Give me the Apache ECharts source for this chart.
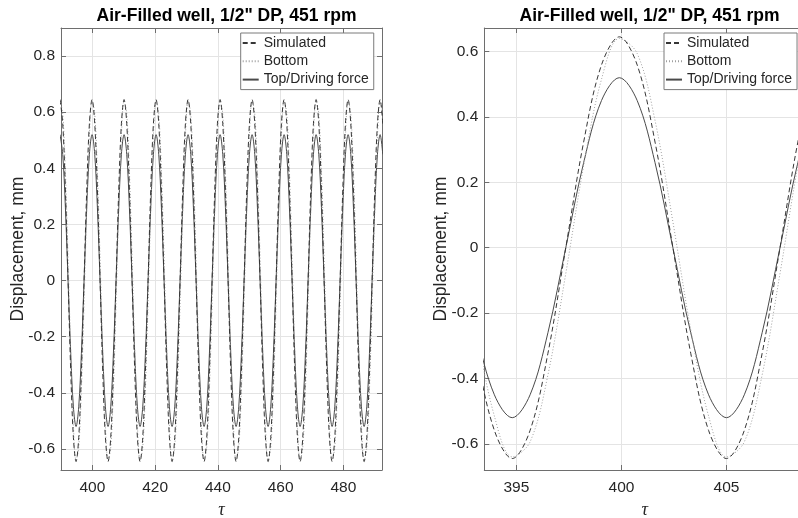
<!DOCTYPE html>
<html><head><meta charset="utf-8">
<script src="https://cdn.jsdelivr.net/npm/echarts@6/dist/echarts.min.js"></script>
<style>html,body{margin:0;padding:0;background:#fff}#c{width:798px;height:518px}</style>
</head><body><div id="c"></div>
<script>
const titleText = 'Air-Filled well, 1/2" DP, 451 rpm';
const seriesNames = ['Simulated', 'Bottom', 'Top/Driving force'];
const yAxisName = 'Displacement, mm';
const xAxisName = 'τ';

// τ sample positions (~12 per oscillation)
const tau = [
  389.7, 390.55, 391.4, 392.25, 393.1, 393.95, 394.8, 395.65, 396.5, 397.35, 398.2, 399.05,
  399.9, 400.75, 401.6, 402.45, 403.3, 404.15, 405.0, 405.85, 406.7, 407.55, 408.4, 409.25,
  410.1, 410.95, 411.8, 412.65, 413.5, 414.35, 415.2, 416.05, 416.9, 417.75, 418.6, 419.45,
  420.3, 421.15, 422.0, 422.85, 423.7, 424.55, 425.4, 426.25, 427.1, 427.95, 428.8, 429.65,
  430.5, 431.35, 432.2, 433.05, 433.9, 434.75, 435.6, 436.45, 437.3, 438.15, 439.0, 439.85,
  440.7, 441.55, 442.4, 443.25, 444.1, 444.95, 445.8, 446.65, 447.5, 448.35, 449.2, 450.05,
  450.9, 451.75, 452.6, 453.45, 454.3, 455.15, 456.0, 456.85, 457.7, 458.55, 459.4, 460.25,
  461.1, 461.95, 462.8, 463.65, 464.5, 465.35, 466.2, 467.05, 467.9, 468.75, 469.6, 470.45,
  471.3, 472.15, 473.0, 473.85, 474.7, 475.55, 476.4, 477.25, 478.1, 478.95, 479.8, 480.65,
  481.5, 482.35, 483.2, 484.05, 484.9, 485.75, 486.6, 487.45, 488.3, 489.15, 490.0, 490.85,
  491.7, 492.55
];

// Simulated displacement, mm (dashed)
const simulated = [
  0.645, 0.559, 0.323, 0, -0.323, -0.559, -0.645, -0.559, -0.323, 0, 0.323, 0.559,
  0.645, 0.559, 0.323, 0, -0.323, -0.559, -0.645, -0.559, -0.323, 0, 0.323, 0.559,
  0.645, 0.559, 0.323, 0, -0.323, -0.559, -0.645, -0.559, -0.323, 0, 0.323, 0.559,
  0.645, 0.559, 0.323, 0, -0.323, -0.559, -0.645, -0.559, -0.323, 0, 0.323, 0.559,
  0.645, 0.559, 0.323, 0, -0.323, -0.559, -0.645, -0.559, -0.323, 0, 0.323, 0.559,
  0.645, 0.559, 0.323, 0, -0.323, -0.559, -0.645, -0.559, -0.323, 0, 0.323, 0.559,
  0.645, 0.559, 0.323, 0, -0.323, -0.559, -0.645, -0.559, -0.323, 0, 0.323, 0.559,
  0.645, 0.559, 0.323, 0, -0.323, -0.559, -0.645, -0.559, -0.323, 0, 0.323, 0.559,
  0.645, 0.559, 0.323, 0, -0.323, -0.559, -0.645, -0.559, -0.323, 0, 0.323, 0.559,
  0.645, 0.559, 0.323, 0, -0.323, -0.559, -0.645, -0.559, -0.323, 0, 0.323, 0.559,
  0.645, 0.559
];

// Bottom displacement, mm (dotted, lags slightly)
const bottom = [
  0.640, 0.594, 0.389, 0.079, -0.251, -0.515, -0.640, -0.594, -0.389, -0.079, 0.251, 0.515,
  0.640, 0.594, 0.389, 0.079, -0.251, -0.515, -0.640, -0.594, -0.389, -0.079, 0.251, 0.515,
  0.640, 0.594, 0.389, 0.079, -0.251, -0.515, -0.640, -0.594, -0.389, -0.079, 0.251, 0.515,
  0.640, 0.594, 0.389, 0.079, -0.251, -0.515, -0.640, -0.594, -0.389, -0.079, 0.251, 0.515,
  0.640, 0.594, 0.389, 0.079, -0.251, -0.515, -0.640, -0.594, -0.389, -0.079, 0.251, 0.515,
  0.640, 0.594, 0.389, 0.079, -0.251, -0.515, -0.640, -0.594, -0.389, -0.079, 0.251, 0.515,
  0.640, 0.594, 0.389, 0.079, -0.251, -0.515, -0.640, -0.594, -0.389, -0.079, 0.251, 0.515,
  0.640, 0.594, 0.389, 0.079, -0.251, -0.515, -0.640, -0.594, -0.389, -0.079, 0.251, 0.515,
  0.640, 0.594, 0.389, 0.079, -0.251, -0.515, -0.640, -0.594, -0.389, -0.079, 0.251, 0.515,
  0.640, 0.594, 0.389, 0.079, -0.251, -0.515, -0.640, -0.594, -0.389, -0.079, 0.251, 0.515,
  0.640, 0.594
];

// Top / driving force displacement, mm (solid)
const topForce = [
  0.52, 0.45, 0.26, 0, -0.26, -0.45, -0.52, -0.45, -0.26, 0, 0.26, 0.45,
  0.52, 0.45, 0.26, 0, -0.26, -0.45, -0.52, -0.45, -0.26, 0, 0.26, 0.45,
  0.52, 0.45, 0.26, 0, -0.26, -0.45, -0.52, -0.45, -0.26, 0, 0.26, 0.45,
  0.52, 0.45, 0.26, 0, -0.26, -0.45, -0.52, -0.45, -0.26, 0, 0.26, 0.45,
  0.52, 0.45, 0.26, 0, -0.26, -0.45, -0.52, -0.45, -0.26, 0, 0.26, 0.45,
  0.52, 0.45, 0.26, 0, -0.26, -0.45, -0.52, -0.45, -0.26, 0, 0.26, 0.45,
  0.52, 0.45, 0.26, 0, -0.26, -0.45, -0.52, -0.45, -0.26, 0, 0.26, 0.45,
  0.52, 0.45, 0.26, 0, -0.26, -0.45, -0.52, -0.45, -0.26, 0, 0.26, 0.45,
  0.52, 0.45, 0.26, 0, -0.26, -0.45, -0.52, -0.45, -0.26, 0, 0.26, 0.45,
  0.52, 0.45, 0.26, 0, -0.26, -0.45, -0.52, -0.45, -0.26, 0, 0.26, 0.45,
  0.52, 0.45
];

// Tick labels
const leftXTicks = [400, 420, 440, 460, 480];
const leftYTicks = [-0.6, -0.4, -0.2, 0, 0.2, 0.4, 0.6, 0.8];
const rightXTicks = [395, 400, 405];
const rightYTicks = [-0.6, -0.4, -0.2, 0, 0.2, 0.4, 0.6];

const FONT = 'Liberation Sans, Arial, Helvetica, sans-serif';
const AXIS_COLOR = '#6e6e6e';
const TEXT_COLOR = '#262626';
const GRID_COLOR = '#e4e4e4';

function fmt(ticks) {
  return function (v) {
    for (const t of ticks) if (Math.abs(t - v) < 1e-6) return String(t);
    return '';
  };
}

function mainX(gi, min, max, step, split, ticks) {
  return {
    gridIndex: gi, type: 'value', position: 'bottom', min: min, max: max,
    splitNumber: split, minInterval: step, maxInterval: step,
    axisLine: { show: true, onZero: false, lineStyle: { color: AXIS_COLOR, width: 1 } },
    axisTick: { show: true, inside: true, length: 5, lineStyle: { color: AXIS_COLOR } },
    axisLabel: { formatter: fmt(ticks), margin: 10, fontSize: 15.5, color: TEXT_COLOR, fontFamily: FONT },
    splitLine: { show: true, lineStyle: { color: GRID_COLOR, width: 1 } },
    name: xAxisName, nameLocation: 'middle', nameGap: 29,
    nameTextStyle: { fontSize: 18, fontStyle: 'italic', color: TEXT_COLOR, fontFamily: 'Liberation Serif, DejaVu Serif, serif' }
  };
}
function topX(gi, min, max, step, split) {
  return {
    gridIndex: gi, type: 'value', position: 'top', min: min, max: max,
    splitNumber: split, minInterval: step, maxInterval: step,
    axisLine: { show: true, onZero: false, lineStyle: { color: AXIS_COLOR, width: 1 } },
    axisTick: { show: true, inside: true, length: 5, lineStyle: { color: AXIS_COLOR } },
    axisLabel: { show: false }, splitLine: { show: false }
  };
}
function mainY(gi, min, max, split, ticks, gap) {
  return {
    gridIndex: gi, type: 'value', position: 'left', min: min, max: max,
    splitNumber: split, minInterval: 0.2, maxInterval: 0.2,
    axisLine: { show: true, onZero: false, lineStyle: { color: AXIS_COLOR, width: 1 } },
    axisTick: { show: true, inside: true, length: 5, lineStyle: { color: AXIS_COLOR } },
    axisLabel: { formatter: fmt(ticks), margin: 6, fontSize: 15.5, color: TEXT_COLOR, fontFamily: FONT },
    splitLine: { show: true, lineStyle: { color: GRID_COLOR, width: 1 } },
    name: yAxisName, nameLocation: 'middle', nameGap: gap, nameMoveOverlap: false,
    nameTextStyle: { fontSize: 17.5, color: TEXT_COLOR, fontFamily: FONT }
  };
}
function rightY(gi, min, max, split) {
  return {
    gridIndex: gi, type: 'value', position: 'right', min: min, max: max,
    splitNumber: split, minInterval: 0.2, maxInterval: 0.2,
    axisLine: { show: true, onZero: false, lineStyle: { color: AXIS_COLOR, width: 1 } },
    axisTick: { show: true, inside: true, length: 5, lineStyle: { color: AXIS_COLOR } },
    axisLabel: { show: false }, splitLine: { show: false }
  };
}

const styles = [
  { color: '#363636', width: 1, type: [5, 3] },
  { color: '#a0a0a0', width: 1, type: [1, 2] },
  { color: '#4a4a4a', width: 1, type: 'solid' }
];
const values = [simulated, bottom, topForce];

const series = [];
[0, 1].forEach(function (gi) {
  values.forEach(function (vals, si) {
    series.push({
      type: 'line', name: seriesNames[si],
      xAxisIndex: gi * 2, yAxisIndex: gi * 2,
      data: tau.map(function (x, i) { return [x, vals[i]]; }),
      symbol: 'none', showSymbol: false, smooth: 0.35, clip: true,
      itemStyle: { color: styles[si].color, opacity: 0 },
      lineStyle: styles[si], z: 3 - si, animation: false
    });
  });
});

function legend(left) {
  return {
    data: seriesNames, orient: 'vertical', left: left, top: 33,
    itemWidth: 16, itemHeight: 14, itemGap: 4.3,
    padding: [3, 5, 3, 1],
    itemStyle: { opacity: 0 },
    backgroundColor: '#ffffff', borderColor: '#7a7a7a', borderWidth: 1,
    textStyle: { fontSize: 14, color: TEXT_COLOR, fontFamily: FONT, lineHeight: 14 },
    selectedMode: false
  };
}

const option = {
  animation: false,
  backgroundColor: '#ffffff',
  textStyle: { fontFamily: FONT },
  title: [
    { text: titleText, left: 221.5, top: 2, textAlign: 'center',
      textStyle: { fontSize: 17.5, fontWeight: 'bold', color: '#000', fontFamily: FONT } },
    { text: titleText, left: 644.5, top: 2, textAlign: 'center',
      textStyle: { fontSize: 17.5, fontWeight: 'bold', color: '#000', fontFamily: FONT } }
  ],
  legend: [legend(240.7), legend(664)],
  grid: [
    { left: 61, top: 28, width: 321, height: 442, containLabel: false, outerBoundsMode: 'none' },
    { left: 484.3, top: 28, width: 320.7, height: 442, containLabel: false, outerBoundsMode: 'none' }
  ],
  xAxis: [
    mainX(0, 390, 492.3, 20, 5, leftXTicks), topX(0, 390, 492.3, 20, 5),
    mainX(1, 393.47, 408.74, 5, 3, rightXTicks), topX(1, 393.47, 408.74, 5, 3)
  ],
  yAxis: [
    mainY(0, -0.675, 0.9, 8, leftYTicks, 34), rightY(0, -0.675, 0.9, 8),
    mainY(1, -0.68, 0.672, 7, rightYTicks, 34), rightY(1, -0.68, 0.672, 7)
  ],
  series: series
};

const chart = echarts.init(document.getElementById('c'), null, { renderer: 'canvas' });
chart.setOption(option);
</script></body></html>
